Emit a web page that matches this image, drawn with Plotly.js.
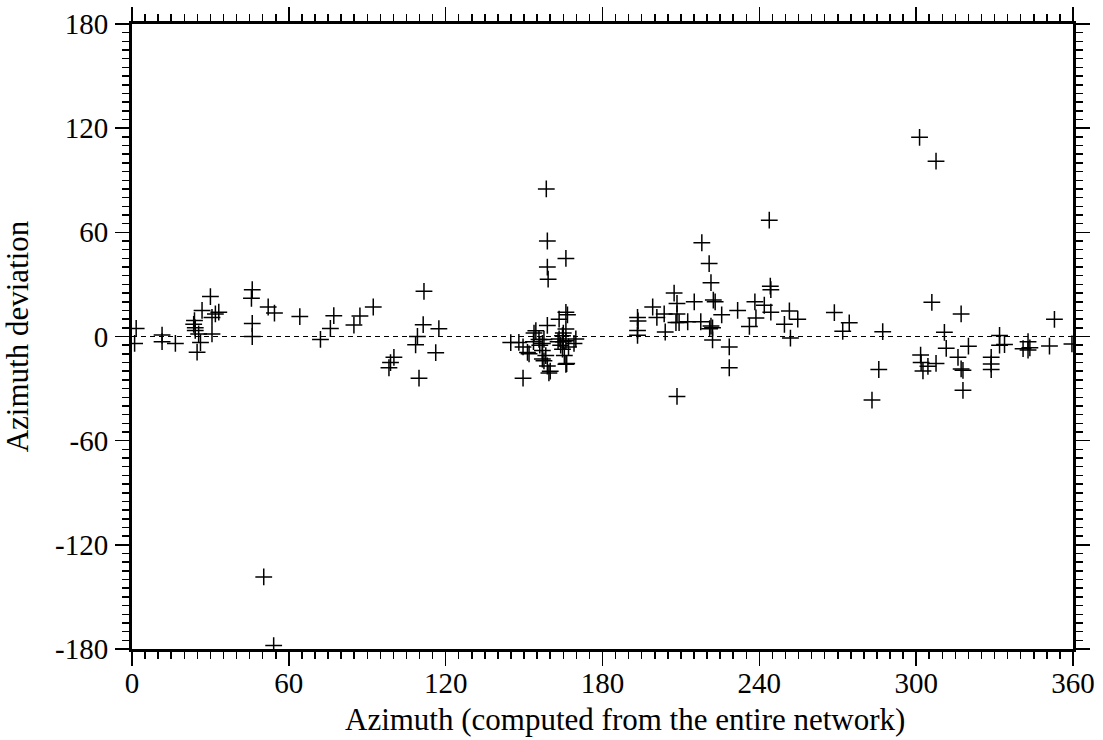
<!DOCTYPE html>
<html>
<head>
<meta charset="utf-8">
<script src="https://cdn.plot.ly/plotly-3.0.1.min.js"></script>
<style>html,body{margin:0;padding:0;background:#fff;}#chart{width:1103px;height:740px;}</style>
</head>
<body>
<div id="chart"></div>
<script>
// Azimuth (computed from the entire network), degrees
const azimuth = [
  1.6, 1.0, 11.5, 11.5, 16.6, 23.6, 23.9, 24.2, 24.2, 25.5, 26.2, 24.9, 26.8, 30.0, 31.9, 30.6, 30.6, 33.2,
  46.0, 45.7, 46.0, 46.0, 52.1, 54.5, 64.2, 72.1, 75.9, 77.2, 84.9, 87.2, 92.3, 98.3, 98.9, 100.2,
  111.7, 111.4, 109.2, 108.5, 109.8, 117.4, 116.2, 50.4, 54.2,
  144.9, 148.0, 149.6, 151.3, 151.9, 149.6, 153.8, 153.6, 154.5, 155.7, 157.6, 157.0, 158.3, 157.6, 158.9,
  159.5, 160.0, 157.0, 156.0, 157.0, 158.5, 158.9, 166.0, 158.9, 159.2, 158.9, 163.4, 166.0, 166.6, 166.0,
  164.7, 163.4, 166.0, 169.8, 169.1, 165.4, 164.7, 166.0, 166.3, 165.0, 164.0, 167.0, 165.0, 163.0,
  193.4, 193.6, 193.4, 193.4, 199.2, 200.8, 203.6, 204.0, 207.4, 208.5, 208.5, 208.1, 209.3, 212.6, 215.1,
  218.0, 220.8, 221.5, 222.4, 223.1, 217.6, 221.5, 222.1, 221.0, 222.1, 225.6, 228.5, 228.5, 208.5, 231.7,
  236.2, 238.7, 238.3, 241.9, 243.8, 244.2, 244.4, 244.4, 249.6, 251.5, 251.9, 254.7, 268.7, 271.9, 274.4,
  287.2, 285.7, 283.1, 301.3, 307.6, 306.0, 301.7, 301.9, 302.6, 304.5, 307.6, 310.8, 311.5, 317.2, 316.0,
  317.2, 317.9, 317.9, 320.0, 328.7, 328.7, 328.7, 331.9, 331.9, 333.8, 340.9, 342.8, 342.8, 343.5, 351.0,
  352.9, 359.6
];
// Azimuth deviation, degrees
const deviation = [
  4.6, -4, 0.8, -3, -4, 7, 9.2, 5, 3.5, 1.5, -3.5, -9, 15, 23, 13, 11, 1.5, 14,
  27, 22, 7.5, 0, 17, 13.5, 11.5, -1.7, 4.6, 12, 6.6, 11.8, 17, -18, -15, -12,
  26, 6.8, 0, -4.8, -24, 4.5, -9.3, -138.5, -178,
  -3.5, -3.4, -6, -9.2, -10, -24, 2, -3, 3.3, -1.7, -1.7, -8, -11, -14, -17,
  -21, -20, -13, -5, -4, 85, 55, 45, 40, 33, 6.4, 10, 13.9, 12.5, 4.3,
  0.5, -1.4, -2.4, -1.4, -4, -11, -7.3, -16, -15.6, -3, -5, -6, 2, -3,
  11, 9, 3.5, 0.7, 17, 11, 13, 2.6, 25, 19, 13, 8, 8, 8.5, 20,
  54, 42, 31, 21, 20, 8.5, 6, 5, 4.5, -2, 12.5, -6, -18, -34.5, 15,
  5.8, 10.7, 20, 18, 67, 29, 27, 14, 7, 14.7, -0.9, 10, 13.8, 3, 7.9,
  2.8, -19, -36.6, 114.7, 101, 19.7, -10.7, -15, -19.8, -17.2, -15.5, 2.4, -6.8, 13, -12,
  -18.7, -19.5, -31, -5.6, -12, -15.8, -19, 0.6, -5, -4.6, -7, -3, -7.8, -6.5, -5.5,
  9.9, -4.3
];
// Zero reference line
const zeroX = [0, 360];
const zeroY = [0, 0];
// Tick labels
const xTickVals = [0, 60, 120, 180, 240, 300, 360];
const xTickText = ['0', '60', '120', '180', '240', '300', '360'];
const yTickVals = [-180, -120, -60, 0, 60, 120, 180];
const yTickText = ['-180', '-120', '-60', '0', '60', '120', '180'];

const font = 'Liberation Serif, Times New Roman, serif';

const traces = [
  {
    x: zeroX, y: zeroY, type: 'scatter', mode: 'lines',
    line: {color: '#000', width: 1.2, dash: '5px,4px'},
    hoverinfo: 'skip', showlegend: false
  },
  {
    x: azimuth, y: deviation, type: 'scatter', mode: 'markers',
    marker: {symbol: 'cross-thin', size: 12, color: '#000', line: {color: '#000', width: 1.5}},
    showlegend: false
  }
];

const axisCommon = {
  showline: true, linecolor: '#000', linewidth: 3, mirror: 'ticks',
  showgrid: false, zeroline: false,
  ticks: 'outside', ticklen: 14, tickwidth: 1.5, tickcolor: '#000',
  tickmode: 'array',
  tickfont: {family: font, size: 29, color: '#000'},
  minor: {ticks: 'outside', ticklen: 7, tickwidth: 1.5, tickcolor: '#000', dtick: 5, tick0: 0, showgrid: false}
};

const layout = {
  width: 1103, height: 740,
  margin: {l: 132, r: 30, t: 24, b: 91},
  paper_bgcolor: '#fff', plot_bgcolor: '#fff',
  font: {family: font, color: '#000'},
  xaxis: Object.assign({}, axisCommon, {
    range: [0, 360], tickvals: xTickVals, ticktext: xTickText, ticklabelstandoff: -8
  }),
  yaxis: Object.assign({}, axisCommon, {
    range: [-180, 180], tickvals: yTickVals, ticktext: yTickText, ticklabelstandoff: 1,
    title: {text: 'Azimuth deviation', font: {family: font, size: 31, color: '#000'}, standoff: 18}
  }),
  annotations: [{
    text: 'Azimuth (computed from the entire network)',
    xref: 'paper', yref: 'paper', x: 0.524, y: -0.113,
    xanchor: 'center', yanchor: 'middle', showarrow: false,
    font: {family: font, size: 31, color: '#000'}
  }]
};

Plotly.newPlot('chart', traces, layout, {staticPlot: true});
</script>
</body>
</html>
